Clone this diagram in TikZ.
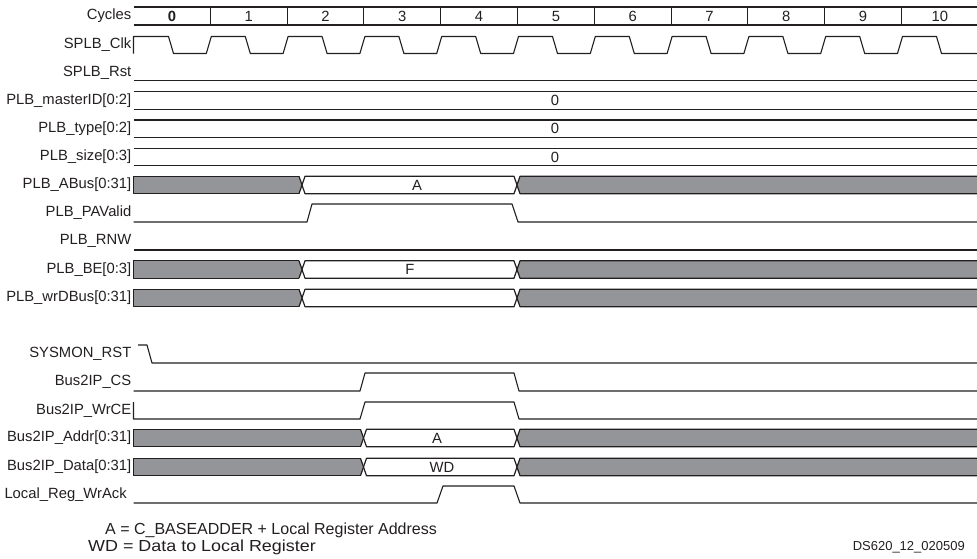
\documentclass[tikz,border=0pt]{standalone}
\usepackage{fontspec}
\setmainfont{Liberation Sans}
\definecolor{ink}{HTML}{231F20}
\definecolor{busgray}{HTML}{939598}
\newcommand{\xo}{133.5}
\newcommand{\cw}{76.8}
\newcommand{\hh}{8.75}
% gray / value / gray bus row: center y, crossing 1, crossing 2
\newcommand{\gbusrow}[3]{%
  \fill[busgray] (\xo,{#1-\hh}) -- ({#2-3},{#1-\hh}) -- (#2,#1) -- ({#2-3},{#1+\hh}) -- (\xo,{#1+\hh}) -- cycle;
  \draw[busline] ({#2-3},{#1-\hh}) -- (\xo,{#1-\hh}) -- (\xo,{#1+\hh}) -- ({#2-3},{#1+\hh});
  \draw[busline] ({#2-3},{#1-\hh}) -- (#2,#1) -- ({#2-3},{#1+\hh});
  \draw[busline] (#2,#1) -- ({#2+3},{#1-\hh}) -- ({#3-3},{#1-\hh}) -- (#3,#1) -- ({#3-3},{#1+\hh}) -- ({#2+3},{#1+\hh}) -- cycle;
  \fill[busgray] (#3,#1) -- ({#3+3},{#1-\hh}) -- (977,{#1-\hh}) -- (977,{#1+\hh}) -- ({#3+3},{#1+\hh}) -- cycle;
  \draw[busline] (977,{#1-\hh}) -- ({#3+3},{#1-\hh}) -- (#3,#1) -- ({#3+3},{#1+\hh}) -- (977,{#1+\hh});
}
\newcommand{\cbusrow}[1]{%
  \draw[busline] (\xo,{#1-\hh}) -- (977,{#1-\hh});
  \draw[busline] (\xo,{#1+\hh}) -- (977,{#1+\hh});
}
\begin{document}
\begin{tikzpicture}[x=1pt,y=-1pt,
  lbl/.style={anchor=east, inner sep=0pt, text=ink, font=\fontsize{14.8}{17}\selectfont},
  val/.style={inner sep=0pt, text=ink, font=\fontsize{14.8}{17}\selectfont},
  note/.style={anchor=west, inner sep=0pt, text=ink, font=\fontsize{16}{18}\selectfont},
  wave/.style={draw=ink, line width=1.1pt, line join=round},
  busline/.style={draw=ink, line width=1.2pt, line join=round}]
\useasboundingbox (0,0) rectangle (977,558);

% ---- labels
\node[lbl] (lcyc) at (131.5,16) {Cycles};
\node[lbl] (lclk) at (131.5,44.5) {SPLB\_Clk};
\node[lbl] (lrst) at (131.5,72.5) {SPLB\_Rst};
\node[lbl] (lmid) at (131.5,100.5) {PLB\_masterID[0:2]};
\node[lbl] (ltyp) at (131.5,128.75) {PLB\_type[0:2]};
\node[lbl] (lsiz) at (131.5,157) {PLB\_size[0:3]};
\node[lbl] (labus) at (131.5,185) {PLB\_ABus[0:31]};
\node[lbl] (lpav) at (131.5,213) {PLB\_PAValid};
\node[lbl] (lrnw) at (131.5,241) {PLB\_RNW};
\node[lbl] (lbe) at (131.5,269.5) {PLB\_BE[0:3]};
\node[lbl] (lwrd) at (131.5,298) {PLB\_wrDBus[0:31]};
\node[lbl] (lsys) at (131.5,354) {SYSMON\_RST};
\node[lbl] (lcs) at (131.5,382) {Bus2IP\_CS};
\node[lbl] (lwce) at (131.5,410.5) {Bus2IP\_WrCE};
\node[lbl] (ladr) at (131.5,438) {Bus2IP\_Addr[0:31]};
\node[lbl] (ldat) at (131.5,467) {Bus2IP\_Data[0:31]};
\node[lbl] (lack) at (127,495) {Local\_Reg\_WrAck};

% ---- cycles header
\draw[wave] (\xo,7) -- (977,7);
\draw[wave] (\xo,25) -- (977,25);
\foreach \k in {1,...,10} {
  \draw[wave] ({\xo+\cw*\k},7) -- ({\xo+\cw*\k},25);
}
\node[val] (c0) at ({\xo+\cw*0.5},16.5) {\bfseries 0};
\foreach \k in {1,...,10} {
  \node[val] (c\k) at ({\xo+\cw*(\k+0.5)},16.5) {\k};
}

% ---- clock
\draw[wave] (\xo,53.5) -- (\xo,36.5)
  \foreach \k in {0,...,9} {
    -- ({\xo+\cw*\k+35},36.5) -- ({\xo+\cw*\k+40},53.5)
    -- ({\xo+\cw*(\k+1)-4},53.5) -- ({\xo+\cw*(\k+1)+1},36.5)
  }
  -- ({\xo+\cw*10+35},36.5) -- ({\xo+\cw*10+40},53.5) -- (977,53.5);

% ---- reset
\draw[wave] (\xo,80.5) -- (977,80.5);

% ---- constant buses
\cbusrow{100.5}
\node[val] (vmid) at (555,100.5) {0};
\cbusrow{128.75}
\node[val] (vtyp) at (555,128.75) {0};
\cbusrow{157}
\node[val] (vsiz) at (555,157) {0};

% ---- PLB address phase
\gbusrow{185}{302}{517}
\node[val] (vabus) at (417,185) {A};
\draw[wave] (\xo,222) -- (307,222) -- (312,204) -- (512,204) -- (518,222) -- (977,222);
\draw[wave] (\xo,250) -- (977,250);
\gbusrow{269.5}{302}{517}
\node[val] (vbe) at (410,269.5) {F};
\gbusrow{298}{302}{517}

% ---- IPIF side
\draw[wave] (138,345) -- (147,345) -- (152,363) -- (977,363);
\draw[wave] (\xo,391) -- (360,391) -- (365,373) -- (514,373) -- (519,391) -- (977,391);
\draw[wave] (\xo,402) -- (\xo,419) -- (360,419) -- (365,402) -- (514,402) -- (519,419) -- (977,419);
\gbusrow{438}{363.5}{517}
\node[val] (vadr) at (437,438) {A};
\gbusrow{467}{363.5}{517}
\node[val] (vdat) at (442,467) {WD};
\draw[wave] (\xo,503) -- (437,503) -- (443,486) -- (514,486) -- (520,503) -- (977,503);

% ---- notes
\node[note] (n1) at (105,530) {A = C\_BASEADDER + Local Register Address};
\node[note] (n2) at (88,547) {\scalebox{1.12}[1]{WD = Data to Local Register}};
\node[anchor=east, inner sep=0pt, text=ink, font=\fontsize{13}{15}\selectfont] (fid) at (965,547) {DS620\_12\_020509};
\end{tikzpicture}
\end{document}
